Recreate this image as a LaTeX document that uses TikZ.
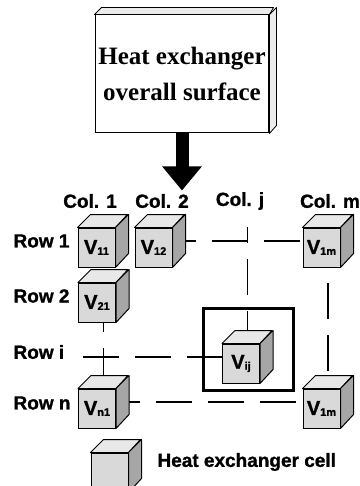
\documentclass[tikz,border=0pt]{standalone}
\usepackage{fontspec}
\setmainfont{Liberation Serif}
\setsansfont{Liberation Sans}[BoldFeatures={FakeBold=1.2}]
\usetikzlibrary{arrows.meta,backgrounds,calc}

\newcommand\cellname[1]{V\raisebox{-1pt}{\fontsize{11}{11}\selectfont #1}}

\begin{document}
\begin{tikzpicture}[x=1pt,y=1pt,
  cellfront/.style={draw=black, line width=1pt, fill=gray!30, minimum width=37pt,
    minimum height=39pt, inner sep=0pt, font=\sffamily\bfseries\fontsize{20}{20}\selectfont},
  celltop/.style={draw=black, line width=1pt, line join=round, fill=gray!18},
  cellside/.style={draw=black, line width=1pt, line join=round, fill=gray!70},
  gridlink/.style={line width=1.3pt, dash pattern=on 36pt off 16pt},
  axislabel/.style={font=\sffamily\bfseries\fontsize{19}{19}\selectfont},
  bevel/.style={draw=black, line width=0.8pt, line join=round, fill=gray!15}]
  \useasboundingbox (0,0) rectangle (359,-486);

  % Overall surface box
  \node[draw, line width=1pt, fill=white, minimum width=172pt, minimum height=118pt,
    align=center, font=\bfseries\fontsize{25}{36}\selectfont] (surface) at (182,-74)
    {Heat exchanger\\overall surface};
  \draw[bevel] (surface.north west) -- ++(7,7) -- ++(172,0) -- (surface.north east) -- cycle;
  \draw[bevel] (surface.north east) -- ++(7,7) -- ++(0,-118) -- (surface.south east) -- cycle;
  \draw[line width=13pt, -{Triangle[length=24pt,width=38pt]}] (surface.south) -- ++(0,-57) coordinate (arrowtip);

  % Column and row labels
  \node[axislabel] (col1) at (90,-201) {Col. 1};
  \node[axislabel] (col2) at (162,-201) {Col. 2};
  \node[axislabel] (colj) at (240,-201) {Col. j};
  \node[axislabel] (colm) at (330,-201) {Col. m};
  \node[axislabel, anchor=west] (row1) at (10,-241) {Row 1};
  \node[axislabel, anchor=west] (row2) at (10,-296) {Row 2};
  \node[axislabel, anchor=west] (rowi) at (10,-352) {Row i};
  \node[axislabel, anchor=west] (rown) at (10,-403) {Row n};

  % Cells
  \foreach \nm/\px/\py/\sub in {v11/96.5/-247.5/11, v12/153.5/-247.5/12, v1m/321.5/-247.5/1m,
      v21/97/-302.5/21, vij/241/-363.5/ij, vn1/97/-408.5/n1, vnm/321.5/-408.5/1m}{
    \node[cellfront] (\nm-f) at (\px,\py) {\cellname{\sub}};
    \draw[celltop] (\nm-f.north west) -- ++(13,13) -- ++(37,0) -- (\nm-f.north east) -- cycle;
    \draw[cellside] (\nm-f.north east) -- ++(13,13) -- ++(0,-39) -- (\nm-f.south east) -- cycle;
    \coordinate (\nm) at ($(\nm-f.center)+(6.5,6.5)$);
  }

  % Selected cell frame
  \node[draw, line width=3pt, minimum width=90pt, minimum height=82pt] (focus) at (248,-349) {};

  % Links between cells
  \coordinate (coljtop) at (247.5,-227);
  \coordinate (rowistart) at (83,-357);
  \begin{scope}[on background layer]
    \draw[gridlink] (v12) -- (v1m);
    \draw[gridlink, dash phase=20pt] (coljtop) -- (vij);
    \draw[gridlink] (v21) -- (vn1);
    \draw[gridlink, dash phase=10pt] (v1m) -- (vnm);
    \draw[gridlink] (rowistart) -- (vij);
    \draw[gridlink] (vn1) -- (vnm);
  \end{scope}

  % Legend
  \node[cellfront] (legend-f) at (109.5,-472.5) {};
  \draw[celltop] (legend-f.north west) -- ++(13,13) -- ++(37,0) -- (legend-f.north east) -- cycle;
  \draw[cellside] (legend-f.north east) -- ++(13,13) -- ++(0,-39) -- (legend-f.south east) -- cycle;
  \node[axislabel, anchor=west] (legendtext) at (154,-462) {Heat exchanger cell};
\end{tikzpicture}
\end{document}
